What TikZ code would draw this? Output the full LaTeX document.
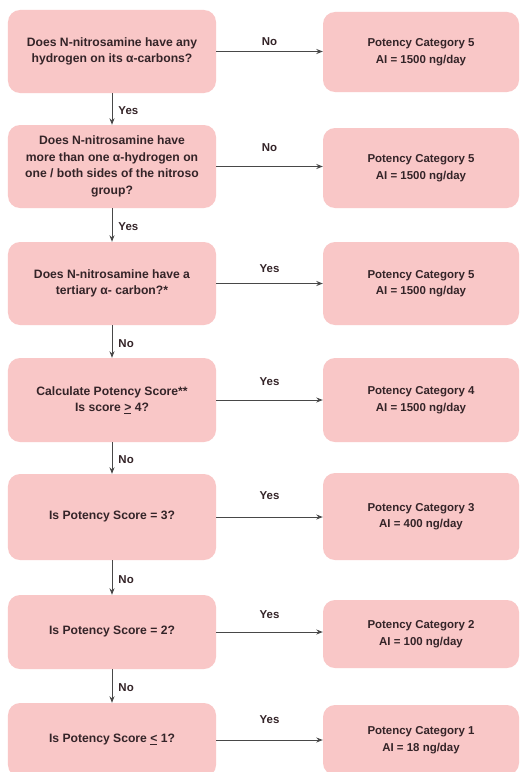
\documentclass[tikz,border=0pt]{standalone}
\usepackage{fontspec}
\setmainfont{Liberation Sans}
\usetikzlibrary{arrows.meta}
\definecolor{boxpink}{RGB}{249,199,199}
\definecolor{txtc}{RGB}{52,36,40}
\definecolor{linec}{RGB}{72,72,72}
\begin{document}
\begin{tikzpicture}[x=1bp,y=-1bp,
  box/.style={fill=boxpink, rounded corners=12bp, align=center,
    text=txtc, inner sep=0pt},
  qbox/.style={box, minimum width=208bp, font=\fontsize{12.2}{16.6}\selectfont\bfseries},
  resbox/.style={box, minimum width=196bp, font=\fontsize{11.5}{16.5}\selectfont\bfseries},
  arr/.style={draw=linec, line width=1bp, -{Stealth[length=6.5bp,width=5bp]}},
  lab/.style={font=\fontsize{11.5}{13}\selectfont\bfseries, text=txtc, inner sep=1pt}]
\useasboundingbox (0,0) rectangle (520,772);
\clip (0,0) rectangle (520,772);
\fill[white] (0,0) rectangle (520,772);

% questions
\node[qbox, minimum height=83bp] (q1) at (112,51.5) {Does N-nitrosamine have any\\hydrogen on its α-carbons?};
\node[qbox, minimum height=83bp] (q2) at (112,166.5) {Does N-nitrosamine have\\more than one α-hydrogen on\\one / both sides of the nitroso\\group?};
\node[qbox, minimum height=83bp] (q3) at (112,283.5) {Does N-nitrosamine have a\\tertiary α- carbon?*};
\node[qbox, minimum height=84bp] (q4) at (112,400) {Calculate Potency Score**\\Is score \underline{>} 4?};
\node[qbox, minimum height=86bp] (q5) at (112,517) {Is Potency Score = 3?};
\node[qbox, minimum height=74bp] (q6) at (112,632) {Is Potency Score = 2?};
\node[qbox, minimum height=74bp] (q7) at (112,740) {Is Potency Score \underline{<} 1?};

% results
\node[resbox, minimum height=80bp] (r1) at (421,52) {Potency Category 5\\AI = 1500 ng/day};
\node[resbox, minimum height=80bp] (r2) at (421,168) {Potency Category 5\\AI = 1500 ng/day};
\node[resbox, minimum height=83bp] (r3) at (421,283.5) {Potency Category 5\\AI = 1500 ng/day};
\node[resbox, minimum height=84bp] (r4) at (421,400) {Potency Category 4\\AI = 1500 ng/day};
\node[resbox, minimum height=87bp] (r5) at (421,516.5) {Potency Category 3\\AI = 400 ng/day};
\node[resbox, minimum height=68bp] (r6) at (421,634) {Potency Category 2\\AI = 100 ng/day};
\node[resbox, minimum height=70bp] (r7) at (421,740) {Potency Category 1\\AI = 18 ng/day};

% vertical connectors
\draw[arr] (q1.south) -- (q2.north) node[lab, midway, right=5bp, yshift=-2bp] (v1) {Yes};
\draw[arr] (q2.south) -- (q3.north) node[lab, midway, right=5bp, yshift=-2bp] (v2) {Yes};
\draw[arr] (q3.south) -- (q4.north) node[lab, midway, right=5bp, yshift=-2bp] (v3) {No};
\draw[arr] (q4.south) -- (q5.north) node[lab, midway, right=5bp, yshift=-2bp] (v4) {No};
\draw[arr] (q5.south) -- (q6.north) node[lab, midway, right=5bp, yshift=-2bp] (v5) {No};
\draw[arr] (q6.south) -- (q7.north) node[lab, midway, right=5bp, yshift=-2bp] (v6) {No};

% horizontal connectors
\draw[arr] (q1.east) -- (q1.east -| r1.west) node[lab, midway, yshift=9.6bp] (h1) {No};
\draw[arr] (q2.east) -- (q2.east -| r2.west) node[lab, midway, yshift=19bp] (h2) {No};
\draw[arr] (q3.east) -- (q3.east -| r3.west) node[lab, midway, yshift=15bp] (h3) {Yes};
\draw[arr] (q4.east) -- (q4.east -| r4.west) node[lab, midway, yshift=18bp] (h4) {Yes};
\draw[arr] (q5.east) -- (q5.east -| r5.west) node[lab, midway, yshift=21bp] (h5) {Yes};
\draw[arr] (q6.east) -- (q6.east -| r6.west) node[lab, midway, yshift=17bp] (h6) {Yes};
\draw[arr] (q7.east) -- (q7.east -| r7.west) node[lab, midway, yshift=20.5bp] (h7) {Yes};
\end{tikzpicture}
\end{document}
